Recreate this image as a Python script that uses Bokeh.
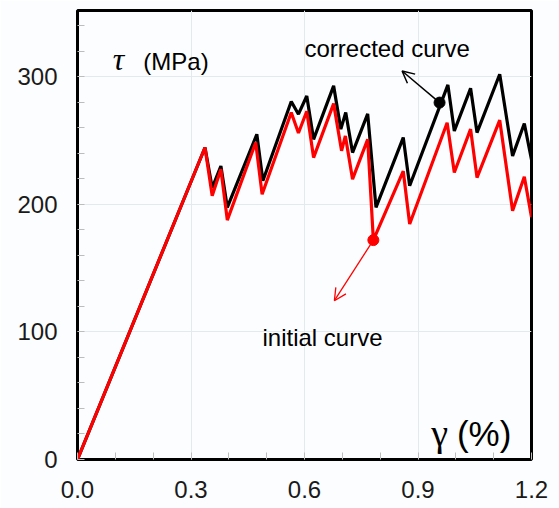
from bokeh.plotting import figure
from bokeh.models import Range1d, FixedTicker, Arrow, OpenHead
from bokeh.core.properties import value
from bokeh.embed import file_html
from bokeh.resources import INLINE

# initial (red) curve
gamma_initial = [0, 0.337, 0.356, 0.379, 0.396, 0.471, 0.488, 0.565, 0.584, 0.606, 0.624,
                 0.677, 0.698, 0.708, 0.727, 0.767, 0.782, 0.861, 0.878, 0.977, 0.996,
                 1.039, 1.056, 1.116, 1.150, 1.181, 1.200]
tau_initial = [0, 244.6, 206.7, 227.6, 187.7, 248.5, 208, 272, 256, 273, 236.7,
               279, 242, 253.7, 219.8, 251, 172, 226, 184.6, 264, 225,
               259, 221, 266, 195, 221.6, 190]

# corrected (black) curve
gamma_corrected = [0, 0.337, 0.356, 0.379, 0.396, 0.474, 0.490, 0.565, 0.584, 0.606, 0.624,
                   0.677, 0.696, 0.709, 0.727, 0.767, 0.789, 0.861, 0.878, 0.979, 0.996,
                   1.039, 1.056, 1.116, 1.150, 1.181, 1.200]
tau_corrected = [0, 244.6, 213, 230, 197.6, 255, 218.5, 280.6, 270.7, 285, 251,
                 292.9, 259, 272, 240.6, 271, 197.6, 252.4, 214.6, 293.7, 257.6,
                 291, 256.3, 302, 238, 263.4, 235]

x_ticks = [0.0, 0.3, 0.6, 0.9, 1.2]
x_minor = [0.1, 0.2, 0.4, 0.5, 0.7, 0.8, 1.0, 1.1]
y_ticks = [0, 100, 200, 300]
y_minor = [20, 40, 60, 80, 120, 140, 160, 180, 220, 240, 260, 280, 320, 340]

# annotation anchors (data coords)
corr_dot = (0.957, 279.8)
corr_arrow_end = (0.858, 304.6)
init_dot = (0.782, 172.0)
init_arrow_end = (0.679, 124.5)

BG = "#fcfdfe"
p = figure(width=559, height=508, output_backend="svg", toolbar_location=None,
           x_range=Range1d(0, 1.2), y_range=Range1d(0, 352),
           min_border_left=77, min_border_right=28, min_border_top=10, min_border_bottom=49,
           background_fill_color=BG, border_fill_color=BG)

p.outline_line_color = "black"
p.outline_line_width = 3

for ax in (p.xaxis[0], p.yaxis[0]):
    ax.axis_line_color = None
    ax.major_tick_in = 7
    ax.major_tick_out = 0
    ax.minor_tick_in = 7
    ax.minor_tick_out = 0
    ax.major_tick_line_color = "#bdbdbd"
    ax.minor_tick_line_color = "#bdbdbd"
    ax.major_label_text_font = "Liberation Sans"
    ax.major_label_text_font_size = "24px"
    ax.major_label_text_color = "#1a1a1a"

p.xaxis.ticker = FixedTicker(ticks=x_ticks, minor_ticks=x_minor)
p.yaxis.ticker = FixedTicker(ticks=y_ticks, minor_ticks=y_minor)
p.xaxis.major_label_overrides = {0.0: "0.0", 0.3: "0.3", 0.6: "0.6", 0.9: "0.9", 1.2: "1.2"}
p.xaxis.major_label_standoff = 21
p.yaxis.major_label_standoff = 20

p.xgrid.grid_line_color = "#e4e9ee"
p.ygrid.grid_line_color = "#e4e9ee"
p.xgrid.ticker = FixedTicker(ticks=x_ticks)
p.ygrid.ticker = FixedTicker(ticks=y_ticks)

p.line(gamma_corrected, tau_corrected, line_color="black", line_width=3.2)
p.line(gamma_initial, tau_initial, line_color="#ff0000", line_width=3.2)

p.scatter([corr_dot[0]], [corr_dot[1]], size=11, color="black")
p.scatter([init_dot[0]], [init_dot[1]], size=11, color="#ff0000")

p.add_layout(Arrow(end=OpenHead(size=12, line_width=1.5, line_color="black"),
                   x_start=corr_dot[0], y_start=corr_dot[1],
                   x_end=corr_arrow_end[0], y_end=corr_arrow_end[1],
                   line_width=1.5, line_color="black"))
p.add_layout(Arrow(end=OpenHead(size=12, line_width=1.3, line_color="#ff0000"),
                   x_start=init_dot[0], y_start=init_dot[1],
                   x_end=init_arrow_end[0], y_end=init_arrow_end[1],
                   line_width=1.3, line_color="#ff0000"))

p.text(x=[0.6], y=[322.4], text=["corrected curve"], text_font=value("Liberation Sans"),
       text_font_size="24px", text_color="black", text_baseline="alphabetic", text_align="left")
p.text(x=[0.489], y=[95.8], text=["initial curve"], text_font=value("Liberation Sans"),
       text_font_size="24px", text_color="black", text_baseline="alphabetic", text_align="left")
p.text(x=[0.093], y=[314], text=["τ"], text_font=value("Liberation Serif"),
       text_font_style="italic", text_font_size="32px", text_color="black",
       text_baseline="alphabetic", text_align="left")
p.text(x=[0.174], y=[312], text=["(MPa)"], text_font=value("Liberation Sans"),
       text_font_size="24px", text_color="black", text_baseline="alphabetic", text_align="left")
p.text(x=[0.935], y=[20.4], text=["γ"], text_font=value("Liberation Serif"),
       text_font_size="38px", text_color="black", text_baseline="alphabetic", text_align="left")
p.text(x=[1.003], y=[20.4], text=["(%)"], text_font=value("Liberation Sans"),
       text_font_size="35px", text_color="black", text_baseline="alphabetic", text_align="left")

open("out.html", "w").write(file_html(p, INLINE))
